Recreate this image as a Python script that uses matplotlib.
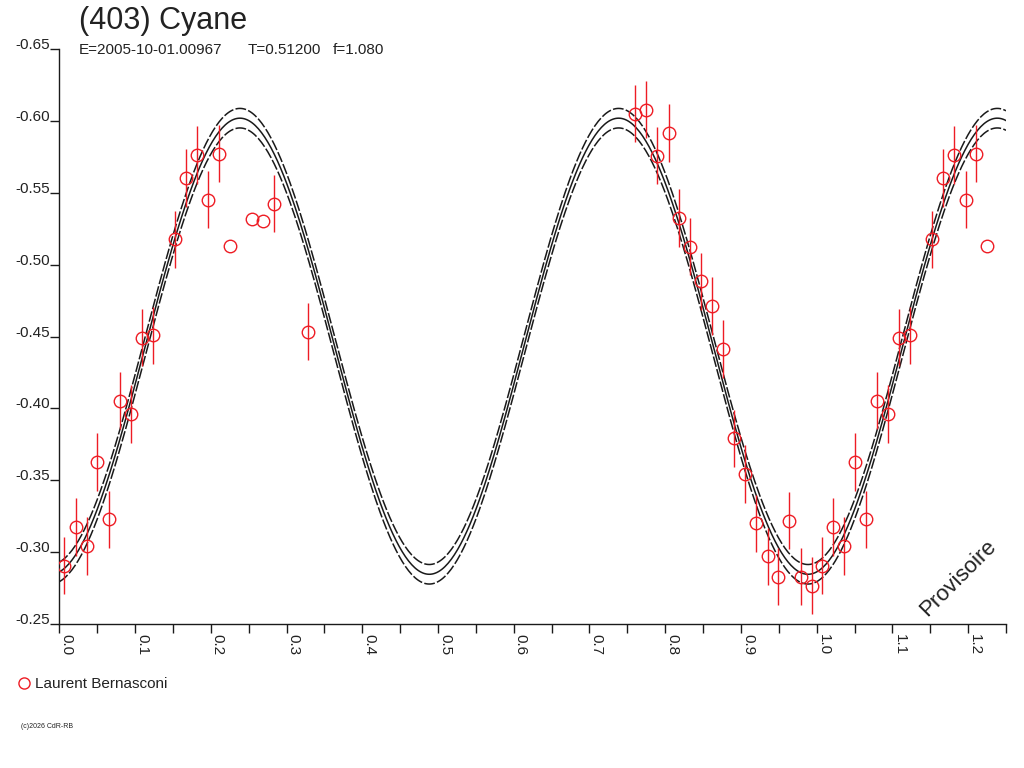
import numpy as np
import matplotlib
matplotlib.use("Agg")
import matplotlib.pyplot as plt
from matplotlib.lines import Line2D
from matplotlib.ticker import MultipleLocator

plt.rcParams['font.family'] = ['Liberation Sans', 'DejaVu Sans']

phase = [0.0066, 0.0216, 0.0361, 0.0502, 0.0656, 0.0797, 0.0942, 0.1088,
         0.1237, 0.1527, 0.1672, 0.1813, 0.1967, 0.2108, 0.2253, 0.2544,
         0.2685, 0.2838, 0.3279, 0.7608, 0.7748, 0.7893, 0.8044, 0.8184,
         0.8329, 0.8474, 0.8619, 0.8765, 0.8915, 0.9060, 0.9205, 0.9355,
         0.9496, 0.9641, 0.9790, 0.9935]
mag = [-0.2906, -0.3175, -0.3043, -0.3629, -0.3228, -0.4054, -0.3963, -0.4492,
       -0.4509, -0.5177, -0.5604, -0.5764, -0.5453, -0.5773, -0.5130, -0.5316,
       -0.5307, -0.5425, -0.4534, -0.6051, -0.6079, -0.5759, -0.5917, -0.5325,
       -0.5126, -0.4885, -0.4713, -0.4414, -0.3792, -0.3544, -0.3201, -0.2971,
       -0.2829, -0.3219, -0.2829, -0.2767]
err = [0.02] * 14 + [0.0, 0.0, 0.0] + [0.02] * 19

# Fourier fit (2nd harmonic) and its uncertainty band
fit_mean = -0.4433
fit_amp = 0.1587
fit_peak = 0.2385
fit_band = 0.0068

x_ticks = [round(0.1 * i, 1) for i in range(13)]
x_labels = ['%.1f' % v for v in x_ticks]
y_ticks = [-0.65, -0.60, -0.55, -0.50, -0.45, -0.40, -0.35, -0.30, -0.25]
y_labels = ['%.2f' % v for v in y_ticks]

fig = plt.figure(figsize=(10.24, 7.68), dpi=100)
W, H = 1024, 768
ax = fig.add_axes([59.3 / W, 1 - 624 / H, (1006 - 59.3) / W, (624 - 49.2) / H])

# fit curve
xx = np.linspace(0, 1.25, 600)
model = fit_mean - fit_amp * np.cos(4 * np.pi * (xx - fit_peak))
ax.plot(xx, model, color='#1a1a1a', lw=1.1, zorder=2)
ax.plot(xx, model - fit_band, color='#1a1a1a', lw=1.1, ls=(0, (7, 1.5)), zorder=2)
ax.plot(xx, model + fit_band, color='#1a1a1a', lw=1.1, ls=(0, (7, 1.5)), zorder=2)

# data, repeated one cycle later
ph = np.array(phase)
mg = np.array(mag)
er = np.array(err)
for shift in (0.0, 1.0):
    xs = ph + shift
    keep = xs <= 1.25
    ax.errorbar(xs[keep], mg[keep], yerr=er[keep], fmt='o', ms=9, mfc='none',
                mec='#ee1c24', mew=1.0, ecolor='#ee1c24', elinewidth=1.0,
                capsize=0, zorder=3)

ax.set_xlim(0, 1.25)
ax.set_ylim(-0.25, -0.65)

for s in ('top', 'right'):
    ax.spines[s].set_visible(False)
for s in ('left', 'bottom'):
    ax.spines[s].set_linewidth(1.0)
    ax.spines[s].set_color('#1a1a1a')

ax.set_xticks(x_ticks, labels=x_labels)
ax.xaxis.set_minor_locator(MultipleLocator(0.05))
ax.set_yticks(y_ticks, labels=y_labels)
ax.tick_params(axis='x', which='both', direction='out', length=6.5, width=1,
               color='#1a1a1a', labelsize=11, pad=1, labelcolor='#222222')
ax.tick_params(axis='y', direction='out', length=6.5, width=1,
               color='#1a1a1a', labelsize=11, pad=0.5, labelcolor='#222222')
plt.setp(ax.get_xticklabels(), rotation=-90, ha='left', va='top')
plt.setp(ax.get_yticklabels(), va='baseline')

# header
fig.text(79 / W, 1 - 29 / H, '(403) Cyane', fontsize=22, color='#222222', va='baseline')
fig.text(79 / W, 1 - 54 / H, 'E=2005-10-01.00967', fontsize=11, color='#222222', va='baseline')
fig.text(248 / W, 1 - 54 / H, 'T=0.51200', fontsize=11, color='#222222', va='baseline')
fig.text(333 / W, 1 - 54 / H, 'f=1.080', fontsize=11, color='#222222', va='baseline')

fig.text(958 / W, 1 - 578 / H, 'Provisoire', fontsize=16, rotation=45,
         ha='center', va='center', color='#222222')

# observer legend
fig.add_artist(Line2D([24 / W], [1 - 683 / H], marker='o', ms=8, mfc='none',
                      mec='#ee1c24', mew=1.0, transform=fig.transFigure))
fig.text(35 / W, 1 - 688 / H, 'Laurent Bernasconi', fontsize=11,
         color='#222222', va='baseline')

fig.text(21 / W, 1 - 726 / H, '(c)2026 CdR-RB', fontsize=5, color='#222222', va='center')

fig.savefig('out.png', dpi=100)
